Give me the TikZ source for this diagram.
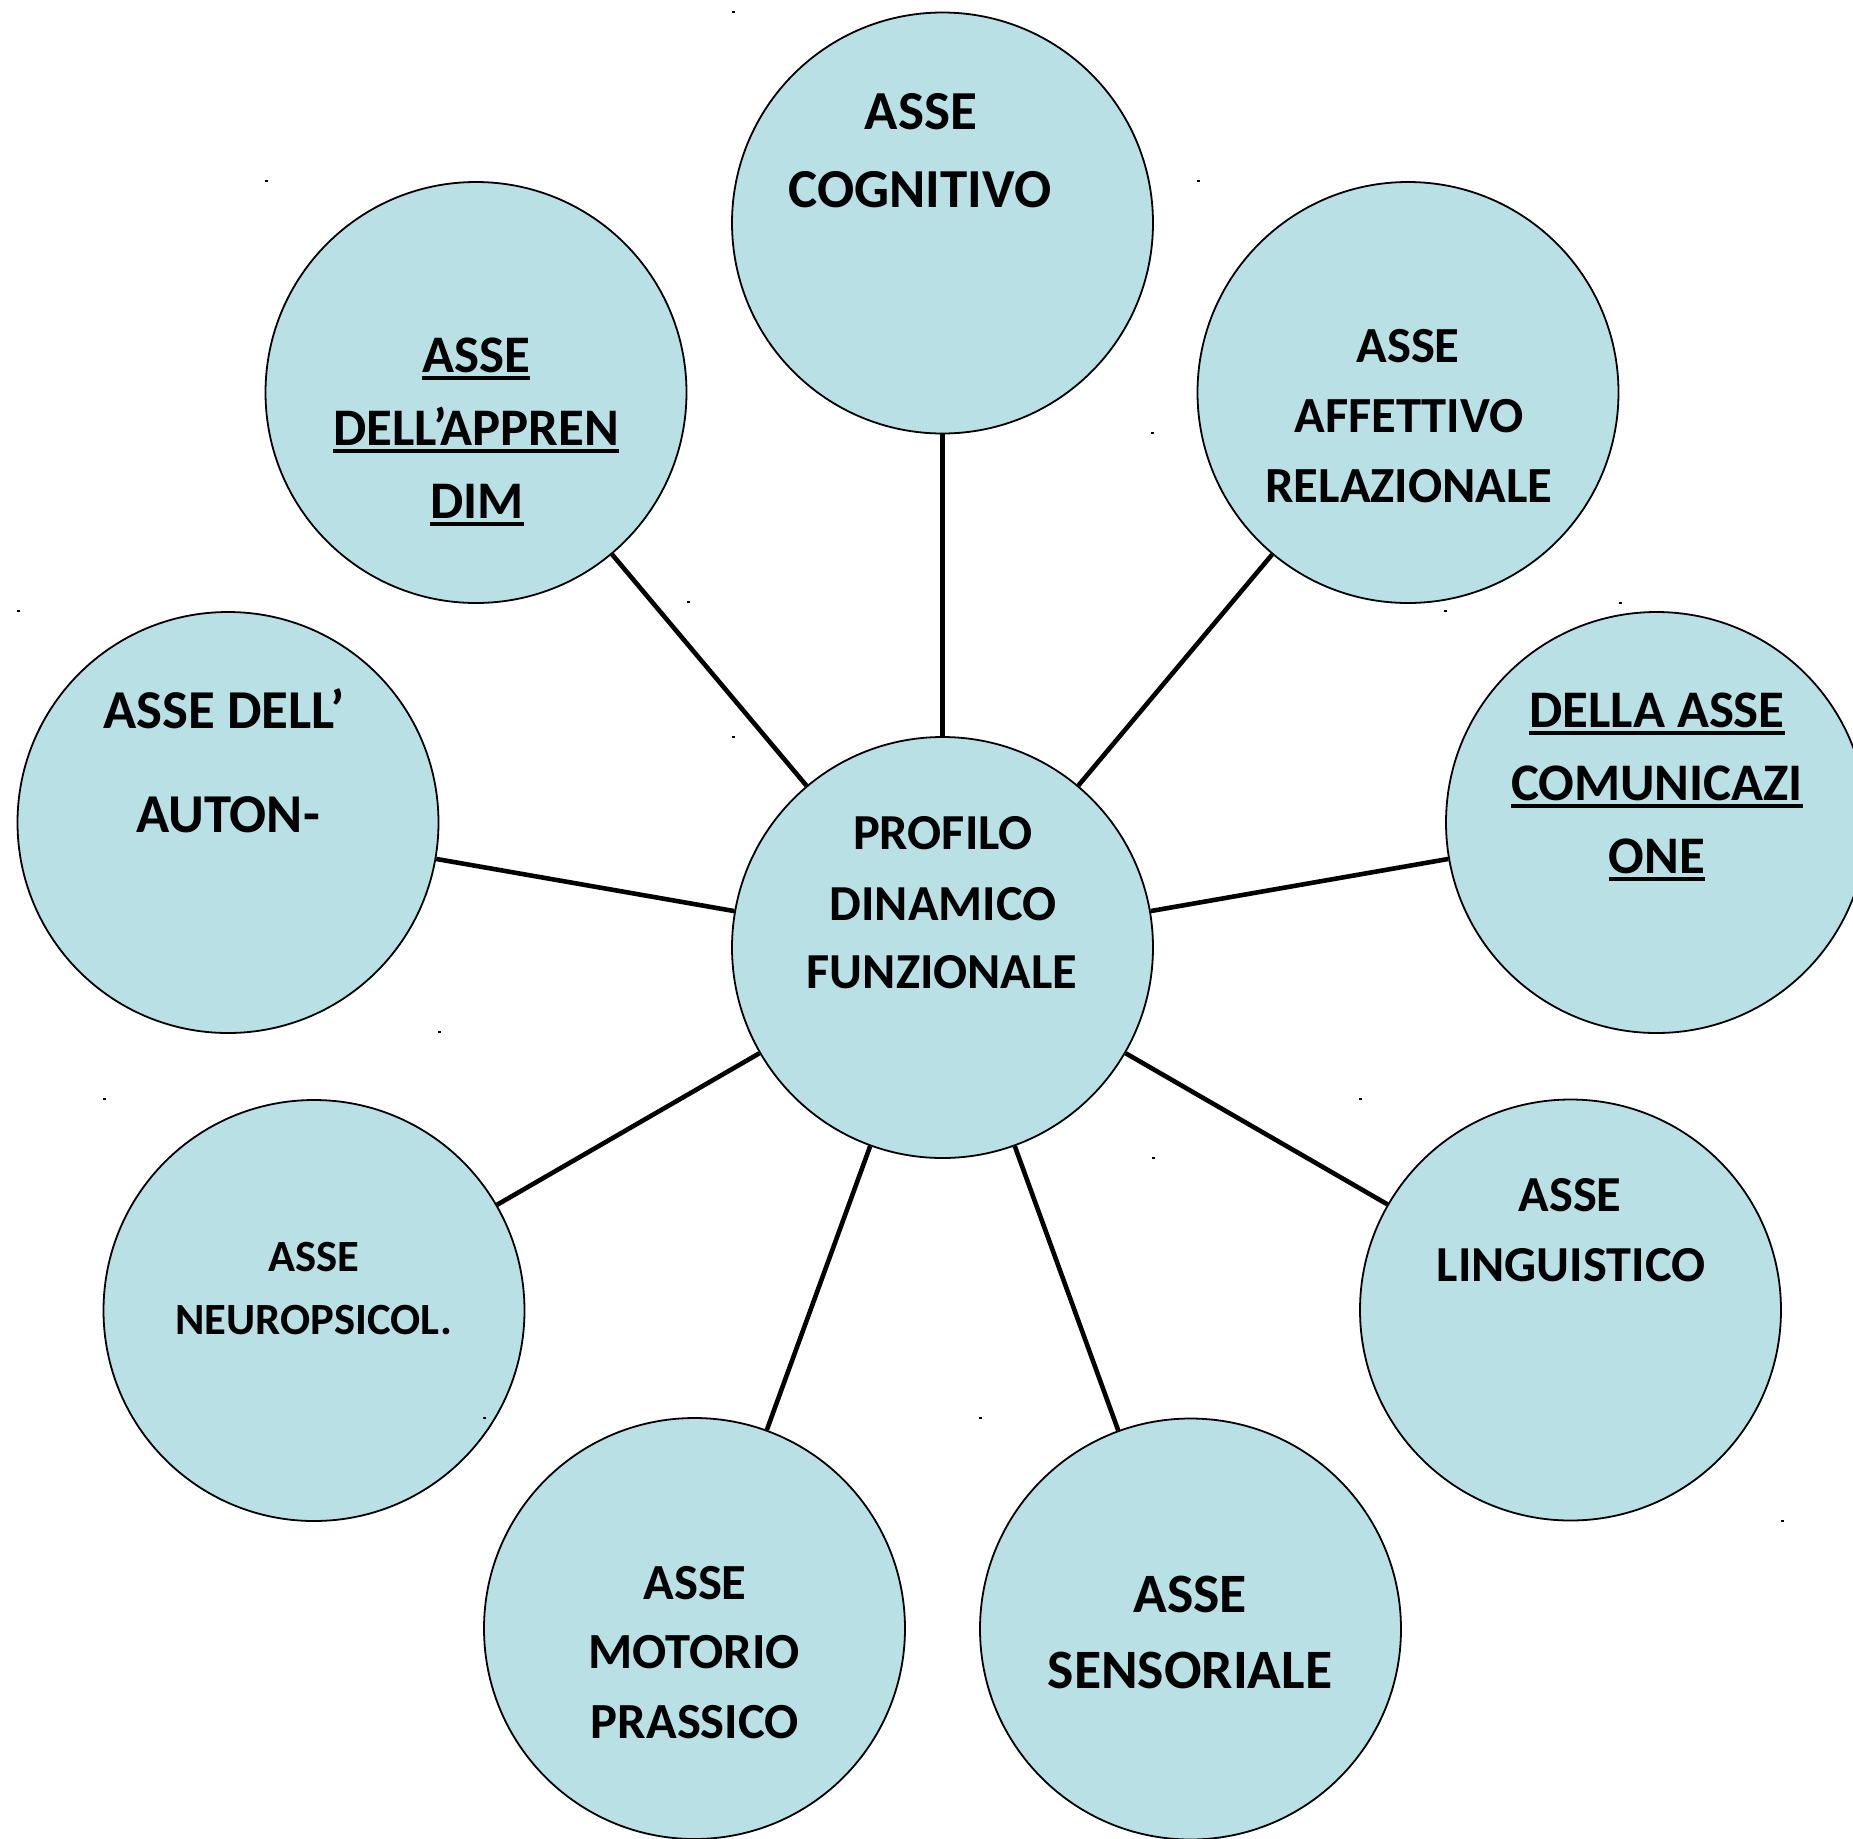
\documentclass[tikz,border=0pt]{standalone}
\usepackage{fontspec}
\setmainfont{Carlito}
\definecolor{bubble}{RGB}{185,224,228}
\newcommand{\ulx}[1]{\setbox0\hbox{#1}\rlap{\rule[-3.9pt]{\wd0}{2pt}}\box0}
\newcommand{\fsz}[1]{\fontsize{#1}{#1}\selectfont\bfseries}
\tikzset{
  bub/.style={circle, draw=black, line width=0.9pt, fill=bubble, minimum size=210.5pt, inner sep=0pt},
  conn/.style={line width=2.3pt, draw=black},
  lbl/.style={anchor=base, inner sep=0pt, text=black},
  speck/.style={fill=black}
}
\begin{document}
\begin{tikzpicture}[x=0.5pt, y=-0.5pt]
\useasboundingbox (0,0) rectangle (1853,1838);
\clip (0,0) rectangle (1853,1838);
\fill[white] (0,0) rectangle (1853,1838);

% circles
\node[bub] (c)   at (942.5,947.5) {};
\node[bub] (cog) at (942.5,223) {};
\node[bub] (app) at (476,392.5) {};
\node[bub] (aff) at (1408,392.5) {};
\node[bub] (aut) at (228,822.5) {};
\node[bub] (com) at (1656.5,822.5) {};
\node[bub] (neu) at (314,1310.5) {};
\node[bub] (lin) at (1570.5,1310) {};
\node[bub] (mot) at (694.5,1628.5) {};
\node[bub] (sen) at (1190.5,1629) {};

% connectors
\foreach \t in {cog,app,aff,aut,com,neu,lin,mot,sen}
  \draw[conn] (c) -- (\t);

% labels
\node[lbl, font=\fsz{25.2}] (c1) at (943,849) {PROFILO};
\node[lbl, font=\fsz{25.2}] (c2) at (943,920) {DINAMICO};
\node[lbl, font=\fsz{25.2}] (c3) at (942,988) {FUNZIONALE};

\node[lbl, font=\fsz{27.5}] (cog1) at (921,129) {ASSE};
\node[lbl, font=\fsz{27.5}] (cog2) at (920,207) {COGNITIVO};

\node[lbl, font=\fsz{26.4}] (app1) at (476,372) {\ulx{ASSE}};
\node[lbl, font=\fsz{26.4}] (app2) at (476,445) {\ulx{DELL’APPREN}};
\node[lbl, font=\fsz{26.4}] (app3) at (477,518) {\ulx{DIM}};

\node[lbl, font=\fsz{25.3}] (aff1) at (1408,362) {ASSE};
\node[lbl, font=\fsz{25.3}] (aff2) at (1409,432) {AFFETTIVO};
\node[lbl, font=\fsz{25.3}] (aff3) at (1409,502) {RELAZIONALE};

\node[lbl, font=\fsz{26.4}] (com1) at (1657,727) {\ulx{DELLA ASSE}};
\node[lbl, font=\fsz{26.4}] (com2) at (1657,800) {\ulx{COMUNICAZI}};
\node[lbl, font=\fsz{26.4}] (com3) at (1657,873) {\ulx{ONE}};

\node[lbl, font=\fsz{27.4}] (aut1) at (224,728) {ASSE DELL’};
\node[lbl, font=\fsz{27.4}] (aut2) at (228,832) {AUTON-};

\node[lbl, font=\fsz{22.3}] (neu1) at (314,1271) {ASSE};
\node[lbl, font=\fsz{22.3}] (neu2) at (314,1334) {NEUROPSICOL.};

\node[lbl, font=\fsz{25.2}] (lin1) at (1570,1211) {ASSE};
\node[lbl, font=\fsz{25.2}] (lin2) at (1571,1281) {LINGUISTICO};

\node[lbl, font=\fsz{25.3}] (mot1) at (695,1599) {ASSE};
\node[lbl, font=\fsz{25.3}] (mot2) at (694,1668) {MOTORIO};
\node[lbl, font=\fsz{25.3}] (mot3) at (695,1738) {PRASSICO};

\node[lbl, font=\fsz{27.8}] (sen1) at (1190,1612) {ASSE};
\node[lbl, font=\fsz{27.8}] (sen2) at (1190,1688) {SENSORIALE};

% tiny specks
\foreach \px/\py in {733/12,1152/433,266/181,688/602,1198/181,1620/603,18/611,439/1032,1445/611,733/737,1153/1158,104/1099,1360/1099,1782/1521,484/1418,980/1418}
  \fill[speck] (\px-1.5,\py-1) rectangle (\px+1.5,\py+1);
\end{tikzpicture}
\end{document}
